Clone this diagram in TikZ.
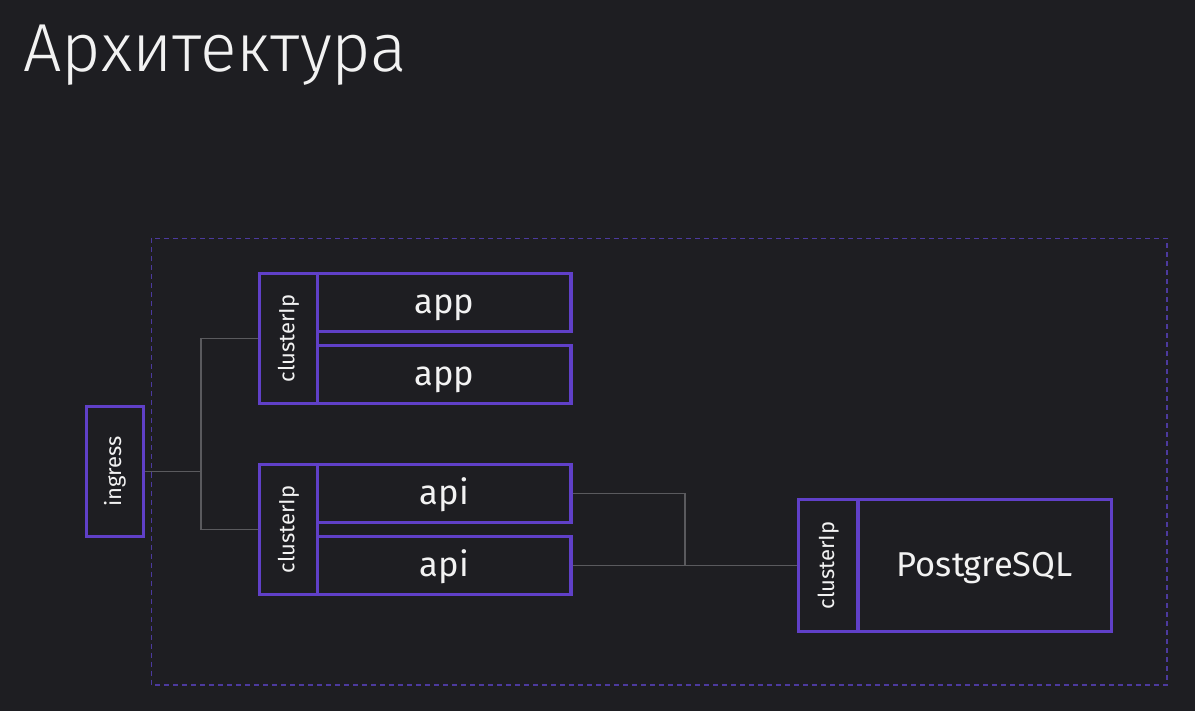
\documentclass[tikz,border=0pt]{standalone}
\usepackage{fontspec}
\setmainfont{Fira Sans}
\newfontfamily\titlefont{Fira Sans Light}
\definecolor{bg}{RGB}{30,30,34}
\definecolor{violet}{RGB}{96,64,200}
\definecolor{dashviolet}{RGB}{76,58,158}
\definecolor{wire}{RGB}{90,90,94}
\definecolor{ink}{RGB}{242,242,242}

\begin{document}
\begin{tikzpicture}[x=1pt,y=-1pt,
    box/.style={draw=violet,line width=3.2pt,text=ink,inner sep=0pt},
    pod/.style={box,minimum width=253.5pt,minimum height=58pt,
      font=\fontsize{34.5}{34.5}\selectfont,text height=22pt,text depth=0pt},
    svc/.style={box,minimum width=58pt,minimum height=130pt,
      font=\fontsize{22}{22}\selectfont},
    wire/.style={draw=wire,line width=1.3pt}]
    \fill[bg] (0,0) rectangle (1195,711);
    \node[anchor=base west,text=ink,font=\titlefont\fontsize{68}{68}\selectfont]
      (title) at (20,72) {Архитектура};
    \draw[dashviolet,line width=1.3pt,dash pattern=on 5pt off 4pt]
      (151.5,238.5) rectangle (1167,685);
    % ingress
    \node[svc,minimum width=57pt] (ingress) at (115,471.5) {\rotatebox{90}{ingress}};
    % app
    \node[svc] (ip1) at (288.5,338.5) {\rotatebox{90}{clusterIp}};
    \node[pod] (app1) at (444.25,302.5) {app};
    \node[pod] (app2) at (444.25,374.5) {app};
    % api
    \node[svc] (ip2) at (288.5,529.5) {\rotatebox{90}{clusterIp}};
    \node[pod] (api1) at (444.25,493.5) {api};
    \node[pod] (api2) at (444.25,565.5) {api};
    % db
    \node[svc,minimum width=59.5pt,minimum height=132pt] (ip3) at (828.25,565.5) {\rotatebox{90}{clusterIp}};
    \node[pod,minimum height=132pt] (pg) at (984.75,565.5) {PostgreSQL};
    \coordinate (split) at (201,471.5);
    \coordinate (merge) at (685,493.5);
    \draw[wire] (ingress.east) -- (split) |- (ip1.west);
    \draw[wire] (split) |- (ip2.west);
    \draw[wire] (api1.east) -- (merge) |- (ip3.west);
    \draw[wire] (api2.east) -- (ip3.west);
  \end{tikzpicture}
\end{document}
